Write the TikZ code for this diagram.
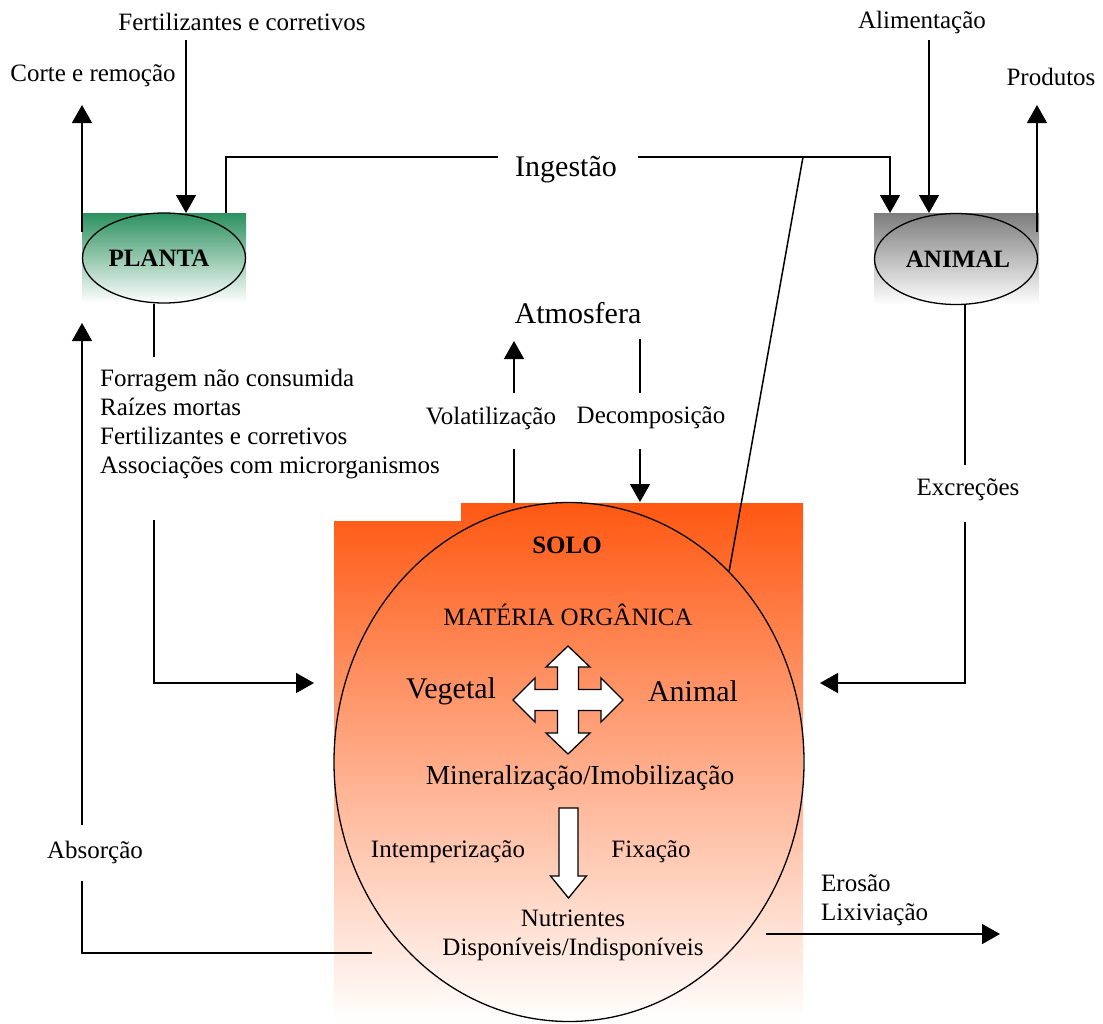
\documentclass[tikz,border=0pt]{standalone}
\usepackage{fontspec}
\setmainfont{Liberation Serif}
\usetikzlibrary{arrows.meta,shapes.geometric}

\definecolor{verde}{RGB}{44,145,95}
\definecolor{cinza}{RGB}{125,125,125}
\definecolor{laranja}{RGB}{255,88,18}

\tikzset{
	txt/.style={font=\fontsize{25}{29}\selectfont, inner sep=0pt},
	big/.style={font=\fontsize{30}{34}\selectfont, inner sep=0pt},
	lig/.style={line width=1.5pt},
	seta/.style={lig, -{Triangle[length=18pt,width=20pt]}},
	elip/.style={draw, ellipse, line width=1.3pt, inner sep=0pt},
	bloco/.style={draw, fill=white, line width=1.3pt, line join=miter},
}

\begin{document}
\begin{tikzpicture}[x=1pt,y=-1pt]
	\useasboundingbox (0,0) rectangle (1103,1023);

	\shade[top color=verde, bottom color=white] (82,213) rectangle (246,303);
	\shade[top color=cinza, bottom color=white] (874,213) rectangle (1039,305);
	\shade[top color=laranja, bottom color=white]
	(334,521) -- (461,521) -- (461,503) -- (803,503) -- (803,1023) -- (334,1023) -- cycle;

	\node[elip, minimum width=163, minimum height=90] (planta) at (164,258)
	{\fontsize{25}{29}\selectfont\textbf{PLANTA}\hspace*{10pt}};
	\node[elip, minimum width=163, minimum height=91] (animal) at (956,259)
	{\fontsize{25}{29}\selectfont\hspace*{4pt}\textbf{ANIMAL}};
	\node[elip, minimum width=470, minimum height=519] (solo) at (569,762) {};

	\node[txt] (fert) at (242,22) {Fertilizantes e corretivos};
	\node[txt] (corte) at (93,76) {Corte e remoção};
	\node[txt] (alim) at (922,22) {Alimentação};
	\node[txt] (prod) at (1051,77) {Produtos};
	\node[big] (ingest) at (566,170) {Ingestão};
	\node[big] (atm) at (578,313) {Atmosfera};
	\node[txt] (volat) at (491,418) {Volatilização};
	\node[txt] (decomp) at (651,418) {Decomposição};
	\node[txt, align=left] (lista) at (270,424)
	{Forragem não consumida\\Raízes mortas\\Fertilizantes e corretivos\\Associações com microrganismos};
	\node[txt] (excr) at (968,490) {Excreções};
	\node[txt] (absor) at (95,852) {Absorção};
	\node[txt, align=left, anchor=west] (eros) at (821,900) {Erosão\\Lixiviação};

	\node[txt] (tsolo) at (567,545) {\textbf{SOLO}};
	\node[txt] (mo) at (568,615) {MATÉRIA ORGÂNICA};
	\node[big] (veg) at (451,691) {Vegetal};
	\node[big] (ani) at (693,691) {Animal};
	\node[txt, font=\fontsize{27.5}{31}\selectfont] (miner) at (580,778) {Mineralização/Imobilização};
	\node[txt] (intemp) at (448,852) {Intemperização};
	\node[txt] (fix) at (651,852) {Fixação};
	\node[txt, align=center] (nutri) at (573,935) {Nutrientes\\Disponíveis/Indisponíveis};

	% setas em bloco
	\draw[bloco, shift={(568,700)}]
	(0,-54) -- (22,-33) -- (10.5,-33) -- (10.5,-10.5) -- (33,-10.5) -- (33,-22)
	-- (55,0) -- (33,22) -- (33,10.5) -- (10.5,10.5) -- (10.5,33) -- (22,33)
	-- (0,54) -- (-22,33) -- (-10.5,33) -- (-10.5,10.5) -- (-33,10.5) -- (-33,22)
	-- (-55,0) -- (-33,-22) -- (-33,-10.5) -- (-10.5,-10.5) -- (-10.5,-33) -- (-22,-33) -- cycle;
	\draw[bloco, shift={(568.5,0)}]
	(-9.5,808) -- (9.5,808) -- (9.5,876) -- (18,876) -- (0,898) -- (-18,876) -- (-9.5,876) -- cycle;

	% pontas livres
	\coordinate (pl1) at (82,232);
	\coordinate (pl2) at (82,105);
	\coordinate (fe1) at (186,40);
	\coordinate (fe2) at (186,213);
	\coordinate (in1) at (226,213);
	\coordinate (in2) at (498,157);
	\coordinate (in3) at (638,157);
	\coordinate (in4) at (890,213);
	\coordinate (inS) at (803,157);
	\coordinate (al1) at (929,40);
	\coordinate (al2) at (929,213);
	\coordinate (an1) at (1037,232);
	\coordinate (an2) at (1037,105);
	\coordinate (ls1) at (154,357);
	\coordinate (ls2) at (154,520);
	\coordinate (ls3) at (314,683);
	\coordinate (ab1) at (372,953);
	\coordinate (ab2) at (82,881);
	\coordinate (ab3) at (82,825);
	\coordinate (ab4) at (82,323);
	\coordinate (vo1) at (514,503);
	\coordinate (vo2) at (514,449);
	\coordinate (vo3) at (514,393);
	\coordinate (vo4) at (514,341);
	\coordinate (de1) at (640,339);
	\coordinate (de2) at (640,393);
	\coordinate (de3) at (640,449);
	\coordinate (de4) at (640,502);
	\coordinate (ex1) at (965,465);
	\coordinate (ex2) at (965,522);
	\coordinate (ex3) at (820,683);
	\coordinate (er1) at (766,934);
	\coordinate (er2) at (1000,934);

	\draw[seta] (pl1) -- (pl2);
	\draw[seta] (fe1) -- (fe2);
	\draw[lig] (in1) |- (in2);
	\draw[seta] (in3) -| (in4);
	\draw[lig] (inS) -- (solo.50);
	\draw[seta] (al1) -- (al2);
	\draw[seta] (an1) -- (an2);
	\draw[lig] (planta.south -| ls1) -- (ls1);
	\draw[seta] (ls2) |- (ls3);
	\draw[lig] (ab1) -| (ab2);
	\draw[seta] (ab3) -- (ab4);
	\draw[lig] (vo1) -- (vo2);
	\draw[seta] (vo3) -- (vo4);
	\draw[lig] (de1) -- (de2);
	\draw[seta] (de3) -- (de4);
	\draw[lig] (animal.south -| ex1) -- (ex1);
	\draw[seta] (ex2) |- (ex3);
	\draw[seta] (er1) -- (er2);
\end{tikzpicture}
\end{document}
